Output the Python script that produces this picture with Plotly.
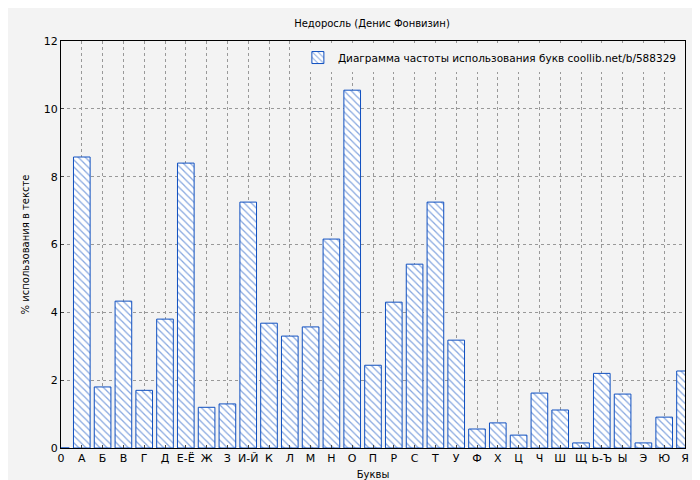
import plotly.graph_objects as go

letters = ["0","А","Б","В","Г","Д","Е-Ё","Ж","З","И-Й","К","Л","М","Н","О","П","Р","С","Т","У","Ф","Х","Ц","Ч","Ш","Щ","Ь-Ъ","Ы","Э","Ю","Я"]
values = [0,8.58,1.8,4.33,1.7,3.8,8.4,1.2,1.3,7.25,3.68,3.3,3.57,6.16,10.55,2.44,4.3,5.42,7.25,3.18,0.56,0.74,0.38,1.62,1.12,0.15,2.2,1.59,0.15,0.91,2.27]

fig = go.Figure(go.Bar(
    x=list(range(len(letters))), y=values,
    name="Диаграмма частоты использования букв coollib.net/b/588329",
    width=0.8,
    marker=dict(color="white", line=dict(color="#1050c0", width=1),
                pattern=dict(shape="\\", fgcolor="#1050c0", bgcolor="white", size=5, solidity=0.25)),
))
fig.update_layout(
    width=700, height=480,
    paper_bgcolor="#f3f3f3", plot_bgcolor="#f3f3f3",
    margin=dict(l=53, r=23, t=33, b=40, autoexpand=False),
    font=dict(family="DejaVu Sans", size=11, color="#000"),
    title=dict(text="Недоросль (Денис Фонвизин)", x=0.52, y=0.975, xanchor="center", font=dict(size=10)),
    showlegend=True,
    legend=dict(x=0.995, y=0.995, xanchor="right", yanchor="top", bgcolor="#f3f3f3",
                font=dict(size=10.5), itemwidth=30),
    bargap=0.2,
)
fig.update_xaxes(range=[0, 30], tickmode="array", tickvals=list(range(len(letters))), ticktext=letters,
                 title=dict(text="Буквы", font=dict(size=10), standoff=6), automargin=False,
                 showgrid=True, gridcolor="#999", griddash="dot", showline=True, linecolor="#000", mirror=True,
                 ticks="inside", ticklen=3)
fig.update_yaxes(range=[0, 12], dtick=2, title=dict(text="% использования в тексте", font=dict(size=10), standoff=12),
                 automargin=False,
                 showgrid=True, gridcolor="#999", griddash="dot", showline=True, linecolor="#000", mirror=True,
                 ticks="inside", ticklen=3, zeroline=False)
fig.write_html("out.html")
